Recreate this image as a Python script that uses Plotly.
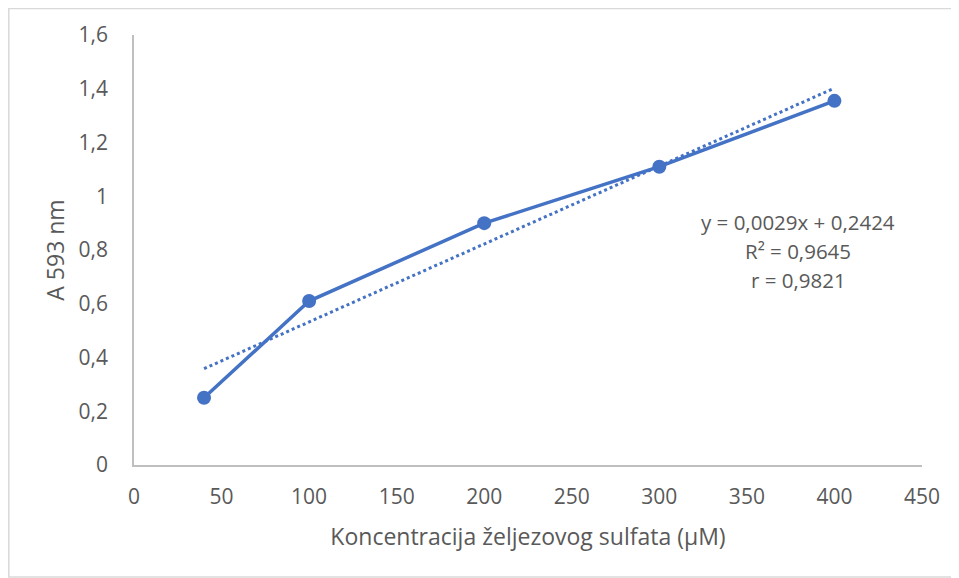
import plotly.graph_objects as go

conc = [40, 100, 200, 300, 400]
absorb = [0.25, 0.61, 0.90, 1.11, 1.355]
slope = 0.0029
intercept = 0.2424
trend_x = [40, 400]
x_ticks = [0, 50, 100, 150, 200, 250, 300, 350, 400, 450]
y_ticks = [0, 0.2, 0.4, 0.6, 0.8, 1.0, 1.2, 1.4, 1.6]
y_tick_labels = ["0", "0,2", "0,4", "0,6", "0,8", "1", "1,2", "1,4", "1,6"]
eq_lines = ["y = 0,0029x + 0,2424", "R² = 0,9645", "r = 0,9821"]

blue = "#4472C4"
gray = "#595959"
font = "Open Sans"

fig = go.Figure()
fig.add_trace(go.Scatter(
    x=trend_x, y=[slope * v + intercept for v in trend_x], mode="lines",
    line=dict(color=blue, width=3, dash="dot"), showlegend=False, hoverinfo="skip"))
fig.add_trace(go.Scatter(
    x=conc, y=absorb, mode="lines+markers",
    line=dict(color=blue, width=3.5), marker=dict(color=blue, size=14),
    showlegend=False))

fig.update_layout(
    width=951, height=570,
    margin=dict(l=126, r=37, t=27, b=113),
    paper_bgcolor="white", plot_bgcolor="white",
    font=dict(family=font, color=gray, size=21),
    xaxis=dict(range=[0, 450], tickvals=x_ticks, ticktext=[str(v) for v in x_ticks],
               showgrid=False, zeroline=False, showline=True, linecolor="#BFBFBF", linewidth=1.5,
               ticks="", ticklabelstandoff=12, tickfont=dict(size=21, color=gray),
               title=dict(text="Koncentracija željezovog sulfata (µM)", standoff=20,
                          font=dict(size=23, color=gray))),
    yaxis=dict(range=[0, 1.6], tickvals=y_ticks, ticktext=y_tick_labels,
               showgrid=False, zeroline=False, showline=True, linecolor="#BFBFBF", linewidth=1.5,
               ticks="", ticklabelstandoff=20, tickfont=dict(size=21, color=gray),
               title=dict(text="A 593 nm", standoff=8, font=dict(size=23, color=gray))),
    annotations=[dict(x=(798 - 134) / 788 * 450, y=0.905 - i * 0.108, xref="x", yref="y",
                      text=t, showarrow=False, xanchor="center", yanchor="middle",
                      font=dict(size=20.5, color=gray))
                 for i, t in enumerate(eq_lines)],
    shapes=[dict(type="rect", xref="paper", yref="paper",
                 x0=-126 / 788 + 0.001, x1=1 + 36 / 788, y0=-112 / 430, y1=1 + 27 / 430 - 0.001,
                 line=dict(color="#D9D9D9", width=1.5), fillcolor="rgba(0,0,0,0)", layer="below")],
)
fig.write_html("out.html")
